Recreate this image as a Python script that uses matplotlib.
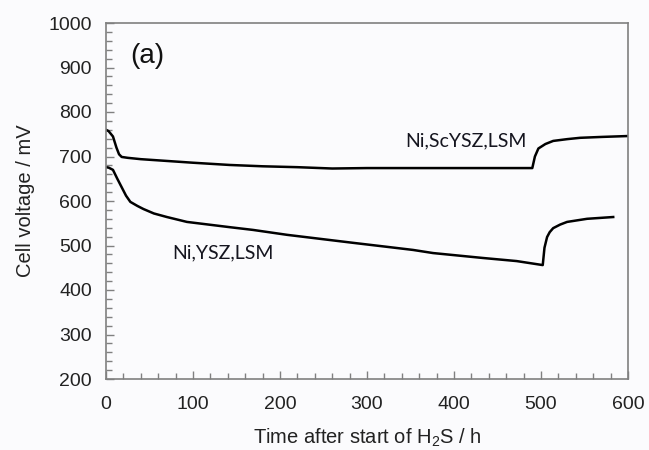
import matplotlib.pyplot as plt
from matplotlib.ticker import MultipleLocator

plt.rcParams["mathtext.fontset"] = "custom"
plt.rcParams["mathtext.rm"] = "Liberation Sans"
plt.rcParams["mathtext.it"] = "Liberation Sans:italic"

# cell voltage during H2S exposure
t_scysz = [0, 3, 8, 12, 15, 18, 25, 40, 70, 100, 142, 180, 220, 260, 300, 361, 400, 450, 480, 490,
           493, 497, 505, 514, 530, 545, 570, 600]
v_scysz = [760, 757, 745, 720, 705, 699, 697, 694, 690, 686, 681, 678, 676, 673, 674, 674, 674, 674, 674, 674,
           700, 718, 728, 735, 739, 742, 744, 746]

t_ysz = [0, 3, 8, 13, 18, 23, 28, 36, 43, 55, 70, 93, 143, 169, 208, 246, 284, 323, 353, 376, 433, 472, 502,
         504, 507, 510, 514, 522, 530, 553, 583]
v_ysz = [676, 675, 670, 650, 631, 612, 598, 589, 582, 572, 564, 553, 541, 535, 524, 515, 506, 497, 490, 483,
         472, 465, 456, 495, 519, 530, 539, 547, 553, 560, 564]

labels = ["Ni,ScYSZ,LSM", "Ni,YSZ,LSM"]

bg = "#fbfbfd"
spine_col = "#808080"

fig = plt.figure(figsize=(6.49, 4.5), dpi=100, facecolor=bg)
ax = fig.add_axes([106 / 649, 1 - 379 / 450, 522 / 649, 356 / 450], facecolor=bg)

ax.plot(t_scysz, v_scysz, color="black", lw=1.8)
ax.plot(t_ysz, v_ysz, color="black", lw=1.8)

ax.set_xlim(0, 600)
ax.set_ylim(200, 1000)
ax.xaxis.set_major_locator(MultipleLocator(100))
ax.xaxis.set_minor_locator(MultipleLocator(20))
ax.yaxis.set_major_locator(MultipleLocator(100))
ax.yaxis.set_minor_locator(MultipleLocator(20))

for s in ax.spines.values():
    s.set_color(spine_col)
    s.set_linewidth(1.2)

ax.tick_params(which="both", direction="in", color=spine_col, width=1.0,
               top=False, right=False)
ax.tick_params(which="major", length=6)
ax.tick_params(which="minor", length=4)
ax.tick_params(axis="x", which="major", pad=12)
ax.tick_params(axis="y", which="major", pad=10)

for lab in ax.get_xticklabels() + ax.get_yticklabels():
    lab.set_fontfamily("Liberation Sans")
    lab.set_fontsize(14)
    lab.set_color("#222222")

ax.set_xlabel("Time after start of H$_2$S / h", fontsize=14.5, family="Liberation Sans",
              color="#222222", labelpad=10)
ax.set_ylabel("Cell voltage / mV", fontsize=14.5, family="Liberation Sans",
              color="#222222", labelpad=10)

ax.text(47, 925, "(a)", fontsize=20, family="Liberation Sans", color="#111111",
        ha="center", va="center")
ax.text(414, 735, labels[0], fontsize=14, family="Lato", color="#15151f",
        ha="center", va="center")
ax.text(134, 483, labels[1], fontsize=14, family="Lato", color="#15151f",
        ha="center", va="center")

fig.savefig("out.png", dpi=100, facecolor=bg)
